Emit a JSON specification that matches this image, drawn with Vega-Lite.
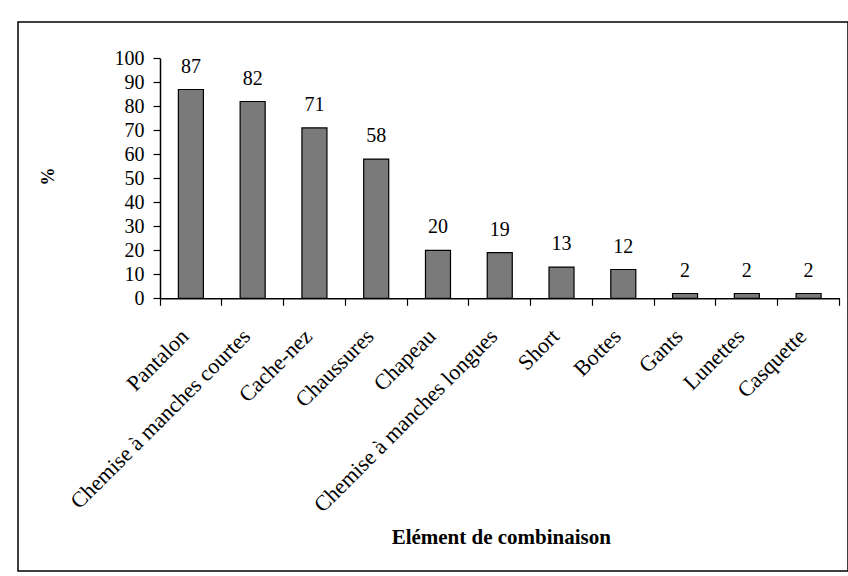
{
  "$schema": "https://vega.github.io/schema/vega-lite/v6.json",
  "width": 830,
  "height": 549,
  "autosize": "none",
  "padding": {"left": 18, "top": 22, "right": 0, "bottom": 5},
  "background": "white",
  "config": {
    "view": {"stroke": "#000000", "strokeWidth": 1.5},
    "font": "Liberation Serif",
    "axis": {"labelFont": "Liberation Serif", "titleFont": "Liberation Serif"}
  },
  "data": {
    "values": [
      {"item": "Pantalon", "pct": 87},
      {"item": "Chemise à manches courtes", "pct": 82},
      {"item": "Cache-nez", "pct": 71},
      {"item": "Chaussures", "pct": 58},
      {"item": "Chapeau", "pct": 20},
      {"item": "Chemise à manches longues", "pct": 19},
      {"item": "Short", "pct": 13},
      {"item": "Bottes", "pct": 12},
      {"item": "Gants", "pct": 2},
      {"item": "Lunettes", "pct": 2},
      {"item": "Casquette", "pct": 2}
    ]
  },
  "encoding": {
    "x": {
      "field": "item",
      "type": "nominal",
      "sort": null,
      "scale": {"range": [142, 821.5], "paddingInner": 0, "paddingOuter": 0},
      "axis": {
        "orient": "bottom",
        "offset": -272.7,
        "ticks": true,
        "bandPosition": 1,
        "tickExtra": true,
        "domainColor": "#000000",
        "domainWidth": 1.5,
        "tickColor": "#000000",
        "tickOpacity": 1,
        "tickSize": 7,
        "tickWidth": 1.2,
        "labelAngle": -45,
        "labelAlign": "right",
        "labelBaseline": "middle",
        "labelFontSize": 22,
        "labelColor": "#000000",
        "labelPadding": 27,
        "labelOffset": -6,
        "labelLimit": 400,
        "labelOverlap": false,
        "grid": false,
        "title": "Elément de combinaison",
        "titleFontSize": 21,
        "titleFontWeight": "bold",
        "titleColor": "#000000",
        "titleX": 482.8,
        "titleY": 238.7,
        "titleBaseline": "middle",
        "titleAlign": "center",
        "titleAnchor": null
      }
    },
    "y": {
      "field": "pct",
      "type": "quantitative",
      "scale": {"domain": [0, 100], "range": [276.3, 36.3], "nice": false, "zero": true},
      "axis": {
        "orient": "left",
        "offset": -142,
        "values": [0, 10, 20, 30, 40, 50, 60, 70, 80, 90, 100],
        "domainColor": "#000000",
        "domainWidth": 1.5,
        "tickColor": "#000000",
        "tickSize": 7,
        "tickWidth": 1.2,
        "labelFontSize": 20,
        "labelColor": "#000000",
        "labelPadding": 9,
        "grid": false,
        "title": "%",
        "titleFontSize": 18,
        "titleFontWeight": "bold",
        "titleColor": "#000000",
        "titleAngle": -90,
        "titleX": -112,
        "titleY": 154,
        "titleBaseline": "middle",
        "titleAlign": "center",
        "titleAnchor": null
      }
    }
  },
  "layer": [
    {
      "mark": {"type": "bar", "width": {"band": 0.405}, "fill": "#7a7a7a", "stroke": "#000000", "strokeWidth": 1.2}
    },
    {
      "mark": {"type": "text", "dy": -17, "baseline": "alphabetic", "align": "center", "fontSize": 20, "font": "Liberation Serif", "color": "#000000"},
      "encoding": {"text": {"field": "pct", "type": "quantitative"}}
    }
  ]
}
